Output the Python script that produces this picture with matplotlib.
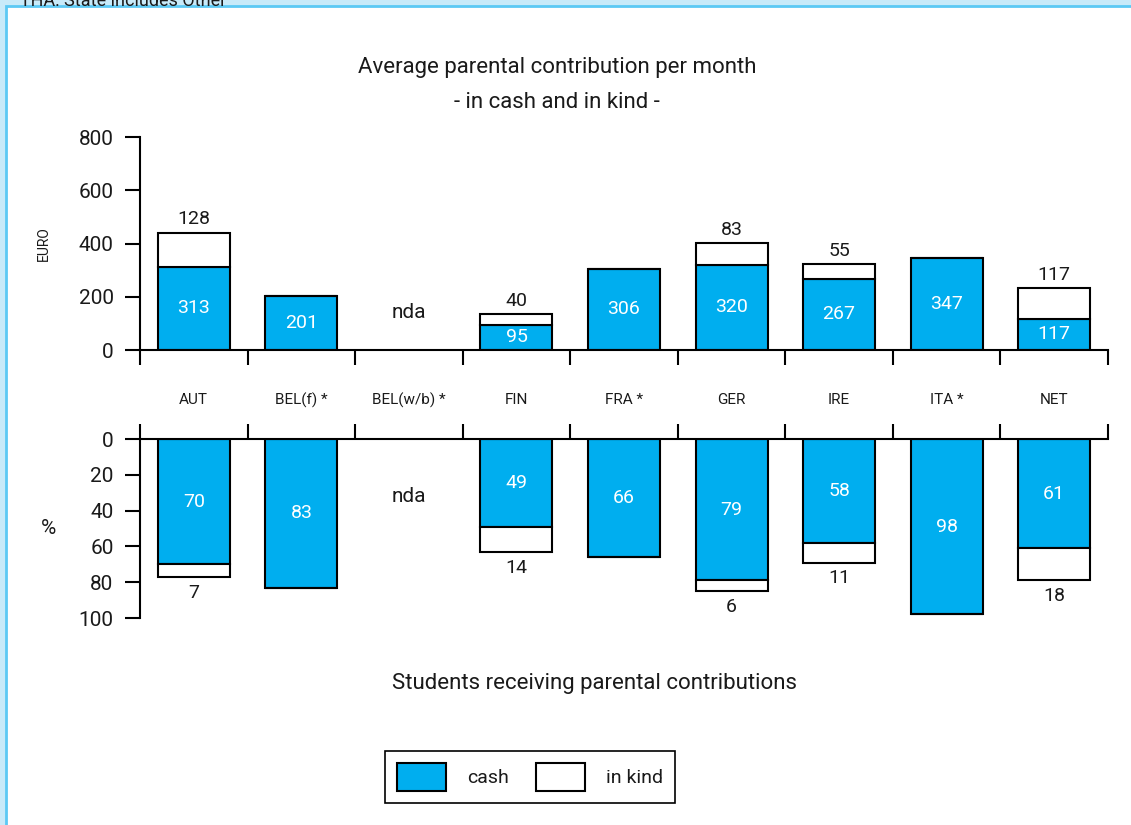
import matplotlib
matplotlib.use("Agg")
import matplotlib.pyplot as plt
from matplotlib.patches import Patch, Rectangle
from matplotlib.transforms import blended_transform_factory
import numpy as np

plt.rcParams["font.family"] = ["Liberation Sans Narrow", "Roboto", "DejaVu Sans"]

# data
countries = ["AUT", "BEL(f) *", "BEL(w/b) *", "FIN", "FRA *", "GER", "IRE", "ITA *", "NET"]
euro_cash = [313, 201, np.nan, 95, 306, 320, 267, 347, 117]
euro_kind = [128, 0, np.nan, 40, 0, 83, 55, 0, 117]
pct_cash = [70, 83, np.nan, 49, 66, 79, 58, 98, 61]
pct_kind = [7, 0, np.nan, 14, 0, 6, 11, 0, 18]

cash_col = "#00aeef"
ink = "#1a1a1a"
x = np.arange(len(countries))
w = 0.67

fig = plt.figure(figsize=(11.31, 8.25), dpi=100)
fig.patch.set_facecolor("#c8eaf9")
fig.add_artist(Rectangle((6 / 1131, -0.1), 1.1, 1 - 6 / 825 + 0.1, transform=fig.transFigure,
                         facecolor="white", edgecolor="#5cc9f4", linewidth=2, zorder=0))
# header line of the page, cut off by the top edge as in the original
fig.text(20 / 1131, 1 - 6 / 825, "THA: State includes Other", fontsize=13, color=ink, va="baseline")

# ---- top panel: euro per month
ax1 = fig.add_axes([140 / 1131, 1 - 350 / 825, 968 / 1131, 213 / 825])
ax1.set_facecolor("none")
ax1.bar(x, euro_cash, w, color=cash_col, edgecolor="black", linewidth=1.5, zorder=2)
ax1.bar(x, euro_kind, w, bottom=euro_cash, color="white", edgecolor="black", linewidth=1.5, zorder=2)
for i in x:
    if np.isnan(euro_cash[i]):
        ax1.text(i, 140, "nda", ha="center", va="center", fontsize=15, color=ink)
        continue
    ax1.text(i, euro_cash[i] / 2, str(euro_cash[i]), ha="center", va="center", fontsize=14, color="white")
    if euro_kind[i] > 0:
        ax1.annotate(str(euro_kind[i]), (i, euro_cash[i] + euro_kind[i]), xytext=(0, 3),
                     textcoords="offset points", ha="center", va="bottom", fontsize=14, color=ink)
ax1.set_xlim(-0.5, 8.5)
ax1.set_ylim(0, 800)
ax1.set_yticks([0, 200, 400, 600, 800])
ax1.set_xticks(np.arange(-0.5, 9, 1))
ax1.set_xticklabels([])
for s in ["top", "right"]:
    ax1.spines[s].set_visible(False)
for s in ["left", "bottom"]:
    ax1.spines[s].set_linewidth(1.5)
ax1.tick_params(axis="y", length=11, width=1.5, labelsize=15, pad=8, labelcolor=ink)
ax1.tick_params(axis="x", length=11, width=1.5, direction="out")
ax1.set_ylabel("EURO", fontsize=10, labelpad=20, color=ink)

tr = blended_transform_factory(ax1.transData, ax1.transAxes)
for i, c in enumerate(countries):
    ax1.text(i, -0.235, c, transform=tr, ha="center", va="center", fontsize=11, color=ink)

fig.text(557 / 1131, 1 - 67 / 825, "Average parental contribution per month", ha="center", va="center",
         fontsize=16, color=ink)
fig.text(557 / 1131, 1 - 103 / 825, "- in cash and in kind -", ha="center", va="center",
         fontsize=16, color=ink)

# ---- bottom panel: share of students
ax2 = fig.add_axes([140 / 1131, 1 - 618 / 825, 968 / 1131, 179 / 825])
ax2.set_facecolor("none")
ax2.bar(x, pct_cash, w, color=cash_col, edgecolor="black", linewidth=1.5, zorder=2)
ax2.bar(x, pct_kind, w, bottom=pct_cash, color="white", edgecolor="black", linewidth=1.5, zorder=2)
for i in x:
    if np.isnan(pct_cash[i]):
        ax2.text(i, 32, "nda", ha="center", va="center", fontsize=15, color=ink)
        continue
    ax2.text(i, pct_cash[i] / 2, str(pct_cash[i]), ha="center", va="center", fontsize=14, color="white")
    if pct_kind[i] > 0:
        ax2.annotate(str(pct_kind[i]), (i, pct_cash[i] + pct_kind[i]), xytext=(0, -5),
                     textcoords="offset points", ha="center", va="top", fontsize=14, color=ink)
ax2.set_xlim(-0.5, 8.5)
ax2.set_ylim(100, 0)
ax2.set_yticks([0, 20, 40, 60, 80, 100])
ax2.xaxis.tick_top()
ax2.set_xticks(np.arange(-0.5, 9, 1))
ax2.set_xticklabels([])
for s in ["bottom", "right"]:
    ax2.spines[s].set_visible(False)
for s in ["left", "top"]:
    ax2.spines[s].set_linewidth(1.5)
ax2.tick_params(axis="y", length=11, width=1.5, labelsize=15, pad=8, labelcolor=ink)
ax2.tick_params(axis="x", length=11, width=1.5, direction="out")
ax2.set_ylabel("%", fontsize=15, rotation=0, labelpad=22, va="center", color=ink)

fig.text(595 / 1131, 1 - 683 / 825, "Students receiving parental contributions", ha="center", va="center",
         fontsize=16, color=ink)

handles = [Patch(facecolor=cash_col, edgecolor="black", linewidth=1.5, label="cash"),
           Patch(facecolor="white", edgecolor="black", linewidth=1.5, label="in kind")]
leg = fig.legend(handles=handles, loc="center", bbox_to_anchor=(530 / 1131, 1 - 777 / 825), ncol=2,
                 fontsize=14, frameon=True, fancybox=False, edgecolor="black", framealpha=1,
                 handlelength=2.5, handleheight=1.9, handletextpad=1.1, columnspacing=1.4,
                 borderpad=0.6)
leg.get_frame().set_linewidth(1.2)
for t in leg.get_texts():
    t.set_color(ink)

fig.savefig("out.png", dpi=100)
